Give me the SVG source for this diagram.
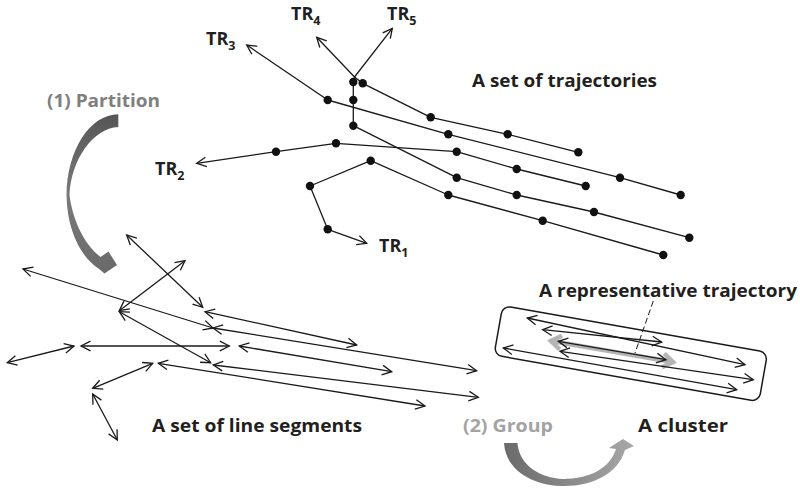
<svg xmlns="http://www.w3.org/2000/svg" width="800" height="488" viewBox="0 0 800 488">
<defs>
<style>
.ln{fill:none;stroke:#1a1a1a;stroke-width:1.3;stroke-linejoin:round}
.tr{marker-end:url(#ah)}
.sg{marker-start:url(#ah);marker-end:url(#ah)}
.dot{fill:#111}
.t{font-family:"Open Sans",Lato,"Liberation Sans",sans-serif;font-weight:bold;font-size:18px;fill:#231f20}
.sub{font-size:12.5px}
.g1{fill:#7f7f7f}
.g2{fill:#a3a3a3}
</style>
<marker id="ah" markerUnits="userSpaceOnUse" markerWidth="14" markerHeight="14" refX="11" refY="6" orient="auto-start-reverse">
<path d="M1.5,1.2 L11,6 L1.5,10.8" fill="none" stroke="#1a1a1a" stroke-width="1.3"/>
</marker>
<marker id="ahg" markerUnits="userSpaceOnUse" markerWidth="20" markerHeight="20" refX="15" refY="10" orient="auto-start-reverse">
<path d="M4,3 L14,10 L4,17" fill="none" stroke="#b4b4b4" stroke-width="4.5"/>
</marker>
<linearGradient id="gp" x1="0" y1="0" x2="0" y2="1">
<stop offset="0" stop-color="#555"/>
<stop offset="0.5" stop-color="#7a7a7a"/>
<stop offset="1" stop-color="#6a6a6a"/>
</linearGradient>
<linearGradient id="gg" x1="0" y1="0" x2="1" y2="0">
<stop offset="0" stop-color="#6a6a6a"/>
<stop offset="1" stop-color="#a8a8a8"/>
</linearGradient>
</defs>
<rect width="800" height="488" fill="#fff"/>

<g id="trajectories">
<g id="TR1">
<polyline class="ln tr" points="663.3,255 542.7,220.7 448.3,195 370.7,160.7 310,186 327.7,229.3 366.7,243.3"/>
<g class="dot"><circle cx="663.3" cy="255" r="4.2"/><circle cx="542.7" cy="220.7" r="4.2"/><circle cx="448.3" cy="195" r="4.2"/><circle cx="370.7" cy="160.7" r="4.2"/><circle cx="310" cy="186" r="4.2"/><circle cx="327.7" cy="229.3" r="4.2"/></g>
<text class="t" x="379" y="252">TR<tspan class="sub" dy="5">1</tspan></text>
</g>
<g id="TR2">
<polyline class="ln tr" points="585.7,186 516.7,169 456.7,151.7 336,143.3 276,151.7 196.7,163.3"/>
<g class="dot"><circle cx="585.7" cy="186" r="4.2"/><circle cx="516.7" cy="169" r="4.2"/><circle cx="456.7" cy="151.7" r="4.2"/><circle cx="336" cy="143.3" r="4.2"/><circle cx="276" cy="151.7" r="4.2"/></g>
<text class="t" x="155" y="175">TR<tspan class="sub" dy="5">2</tspan></text>
</g>
<g id="TR3">
<polyline class="ln tr" points="680.7,195 620,177.7 448.3,134.3 327.7,100 246.7,45"/>
<g class="dot"><circle cx="680.7" cy="195" r="4.2"/><circle cx="620" cy="177.7" r="4.2"/><circle cx="448.3" cy="134.3" r="4.2"/><circle cx="327.7" cy="100" r="4.2"/></g>
<text class="t" x="206" y="45">TR<tspan class="sub" dy="5">3</tspan></text>
</g>
<g id="TR4">
<polyline class="ln tr" points="689.3,237.7 594,212 516.7,195 456.7,177.7 353.3,125.7 353.3,100 353.3,82 354.5,77 316.7,37.3"/>
<g class="dot"><circle cx="689.3" cy="237.7" r="4.2"/><circle cx="594" cy="212" r="4.2"/><circle cx="516.7" cy="195" r="4.2"/><circle cx="456.7" cy="177.7" r="4.2"/><circle cx="353.3" cy="125.7" r="4.2"/><circle cx="353.3" cy="100" r="4.2"/><circle cx="353.3" cy="82" r="4.2"/></g>
<text class="t" x="291" y="20">TR<tspan class="sub" dy="5">4</tspan></text>
</g>
<g id="TR5">
<polyline class="ln tr" points="578.3,152.3 507.7,134.3 430.7,117.3 362.7,83.3 354.5,77 392.3,28.3"/>
<g class="dot"><circle cx="578.3" cy="152.3" r="4.2"/><circle cx="507.7" cy="134.3" r="4.2"/><circle cx="430.7" cy="117.3" r="4.2"/><circle cx="362.7" cy="83.3" r="4.2"/></g>
<text class="t" x="387" y="20">TR<tspan class="sub" dy="5">5</tspan></text>
</g>
<text id="lbl-trajectories" class="t" x="472" y="87" textLength="185" lengthAdjust="spacingAndGlyphs">A set of trajectories</text>
</g>

<g id="partition">
<path d="M118.3,114.3 C90,114.5 67,150 66.5,195 C67,232 82,258 98.5,268.5 L104.5,273.5 L117,265 L108.5,251.5 L100.5,257 C85,245 73,222 69.5,195 C71,160 93,128 118.3,127 Z" fill="url(#gp)"/>
<text class="t g1" x="47" y="107" textLength="113" lengthAdjust="spacingAndGlyphs">(1) Partition</text>
</g>

<g id="segments">
<line class="ln sg" x1="23" y1="269" x2="213" y2="328"/>
<line class="ln sg" x1="213" y1="328" x2="476.7" y2="370.7"/>
<line class="ln sg" x1="205" y1="311.7" x2="356.7" y2="345"/>
<line class="ln sg" x1="126.7" y1="235" x2="202.7" y2="307.3"/>
<line class="ln sg" x1="119.3" y1="310.7" x2="185" y2="260.7"/>
<line class="ln sg" x1="119.3" y1="311.7" x2="210.7" y2="362.7"/>
<line class="ln sg" x1="81" y1="346" x2="229.3" y2="346"/>
<line class="ln sg" x1="7.3" y1="362.7" x2="74" y2="346"/>
<line class="ln sg" x1="239.3" y1="346" x2="391.7" y2="371.7"/>
<line class="ln sg" x1="213.3" y1="365" x2="478.3" y2="397.3"/>
<line class="ln sg" x1="158.3" y1="363.3" x2="425" y2="406"/>
<line class="ln sg" x1="92.7" y1="388.3" x2="152.7" y2="363.3"/>
<line class="ln sg" x1="92.7" y1="394" x2="117.3" y2="440"/>
<text id="lbl-segments" class="t" x="152" y="432" textLength="210" lengthAdjust="spacingAndGlyphs">A set of line segments</text>
</g>

<g id="group-step">
<path d="M504,443 L517.5,443 C519,465 540,478 563,479 C590,479 610,468 616,449 L609,448 L623,439 L634,446 L625,450 C618,474 592,486 565,486 C535,486 506,472 504,443 Z" fill="url(#gg)"/>
<text class="t g2" x="463" y="432" textLength="90" lengthAdjust="spacingAndGlyphs">(2) Group</text>
</g>

<g id="cluster">
<rect x="-134.5" y="-25" width="269" height="50" rx="8" fill="none" stroke="#1a1a1a" stroke-width="1.5" transform="translate(630.8,353.7) rotate(10)"/>
<line class="ln sg" x1="527.3" y1="318" x2="745" y2="364.7"/>
<line class="ln sg" x1="542.7" y1="329.7" x2="661.7" y2="342"/>
<line x1="550" y1="340.7" x2="674" y2="362.3" stroke="#b4b4b4" stroke-width="4.5" style="marker-start:url(#ahg);marker-end:url(#ahg)"/>
<line class="ln sg" x1="558.3" y1="341.3" x2="666" y2="359.7"/>
<line class="ln sg" x1="560" y1="351.3" x2="753.3" y2="379.7"/>
<line class="ln sg" x1="503.3" y1="348" x2="736.7" y2="389.7"/>
<line x1="653.3" y1="301" x2="635" y2="353" stroke="#1a1a1a" stroke-width="1" stroke-dasharray="6 3"/>
<text id="lbl-rep" class="t" x="539" y="297" textLength="258" lengthAdjust="spacingAndGlyphs">A representative trajectory</text>
<text id="lbl-cluster" class="t" x="638" y="432" textLength="90" lengthAdjust="spacingAndGlyphs">A cluster</text>
</g>
</svg>
